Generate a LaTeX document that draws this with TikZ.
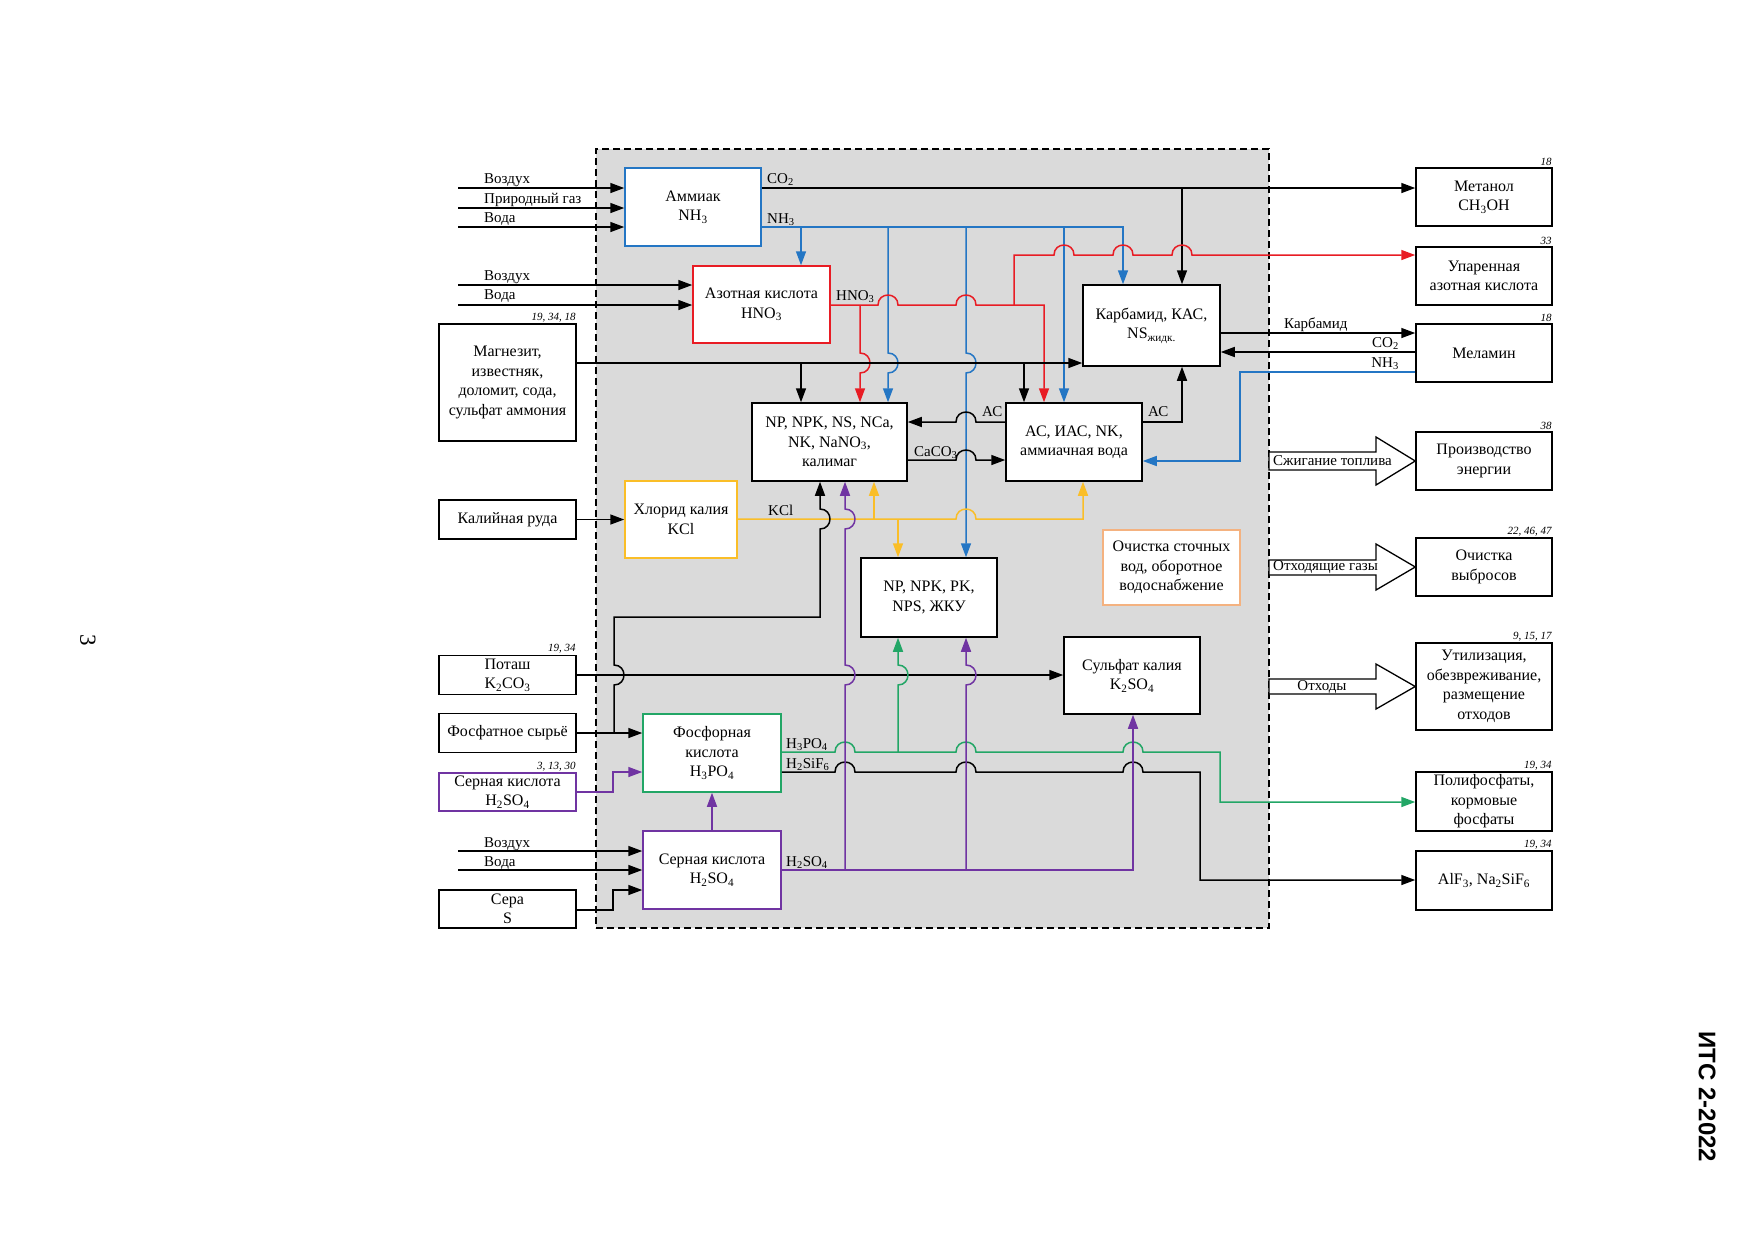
\documentclass[tikz,border=0pt]{standalone}
\usepackage{fontspec}
\setmainfont{Liberation Serif}
\newfontfamily\hdrfont{Liberation Sans}
\usetikzlibrary{arrows.meta}
\definecolor{cblue}{RGB}{36,118,196}
\definecolor{cred}{RGB}{232,28,36}
\definecolor{cyel}{RGB}{250,190,40}
\definecolor{cgreen}{RGB}{34,166,102}
\definecolor{cpurp}{RGB}{112,52,162}
\definecolor{corange}{RGB}{244,178,128}
\definecolor{cgray}{RGB}{218,218,218}
\newcommand\hopR[2]{-- (#1-10,#2) .. controls (#1-10,#2-13.3) and (#1+10,#2-13.3) .. (#1+10,#2)}
\newcommand\hopL[2]{-- (#1+10,#2) .. controls (#1+10,#2-13.3) and (#1-10,#2-13.3) .. (#1-10,#2)}
\newcommand\hopD[2]{-- (#1,#2-10) .. controls (#1+13.3,#2-10) and (#1+13.3,#2+10) .. (#1,#2+10)}
\newcommand\hopU[2]{-- (#1,#2+10) .. controls (#1+13.3,#2+10) and (#1+13.3,#2-10) .. (#1,#2-10)}
\newcommand\bxfont{\fontsize{16}{19.5}\selectfont}
\newcommand\lblfont{\fontsize{15}{17}\selectfont}
\newcommand\numfont{\fontsize{11}{13}\selectfont\itshape}
\newcommand\sbs[1]{\textsubscript{#1}}
\tikzset{
  ln/.style={line width=1.5pt},
  ar/.style={line width=1.5pt, -{Triangle[length=14pt,width=10pt]}},
  bx/.style={draw, fill=white, line width=1.5pt, align=center, inner sep=1pt, font=\bxfont},
  lbl/.style={inner sep=1pt, font=\lblfont},
  num/.style={inner sep=1pt, font=\numfont, anchor=south east},
  fat/.style={draw, fill=white, line width=1.3pt, line join=miter},
}
\begin{document}
\begin{tikzpicture}[x=1pt,y=-1pt]
\useasboundingbox (0,0) rectangle (1754,1240);
\fill[white] (0,0) rectangle (1754,1240);

\node[draw, fill=cgray, dash pattern=on 7pt off 4pt, line width=1.2pt, minimum width=673pt, minimum height=779pt, inner sep=0pt] (plant) at (932.5,538.5) {};

% central boxes
\node[bx, draw=cblue, minimum width=136pt, minimum height=78pt] (amm) at (693,207) {Аммиак\\NH\sbs{3}};
\node[bx, draw=cred, minimum width=137pt, minimum height=77pt] (azot) at (761.5,304.5) {Азотная кислота\\HNO\sbs{3}};
\node[bx, minimum width=137pt, minimum height=81pt] (carb) at (1151.5,325.5) {Карбамид, КАС,\\NS\sbs{жидк.}};
\node[bx, minimum width=155pt, minimum height=78pt] (np1) at (829.5,442) {NP, NPK, NS, NCa,\\NK, NaNO\sbs{3},\\калимаг};
\node[bx, minimum width=136pt, minimum height=78pt] (ac) at (1074,442) {АС, ИАС, NK,\\аммиачная вода};
\node[bx, draw=cyel, minimum width=112pt, minimum height=77pt] (kcl) at (681,519.5) {Хлорид калия\\KCl};
\node[bx, minimum width=136pt, minimum height=79pt] (np2) at (929,597.5) {NP, NPK, PK,\\NPS, ЖКУ};
\node[bx, draw=corange, minimum width=137pt, minimum height=75pt] (ochst) at (1171.5,567.5) {Очистка сточных\\вод, оборотное\\водоснабжение};
\node[bx, minimum width=136pt, minimum height=77pt] (k2so4) at (1132,675.5) {Сульфат калия\\K\sbs{2}SO\sbs{4}};
\node[bx, draw=cgreen, minimum width=138pt, minimum height=78pt] (fosf) at (712,753) {Фосфорная\\кислота\\H\sbs{3}PO\sbs{4}};
\node[bx, draw=cpurp, minimum width=138pt, minimum height=78pt] (sern) at (712,870) {Серная кислота\\H\sbs{2}SO\sbs{4}};

% left boxes
\node[bx, minimum width=137pt, minimum height=117pt] (magn) at (507.5,382.5) {Магнезит,\\известняк,\\доломит, сода,\\сульфат аммония};
\node[bx, minimum width=137pt, minimum height=39pt] (kal) at (507.5,519.5) {Калийная руда};
\node[bx, minimum width=137pt, minimum height=39pt] (potash) at (507.5,675) {Поташ\\K\sbs{2}CO\sbs{3}};
\node[bx, minimum width=137pt, minimum height=39pt] (fosfs) at (507.5,733) {Фосфатное сырьё};
\node[bx, draw=cpurp, minimum width=137pt, minimum height=38pt] (sernin) at (507.5,792) {Серная кислота\\H\sbs{2}SO\sbs{4}};
\node[bx, minimum width=137pt, minimum height=38pt] (sera) at (507.5,909) {Сера\\S};

% right boxes
\node[bx, minimum width=136pt, minimum height=58pt] (meth) at (1484,197) {Метанол\\CH\sbs{3}OH};
\node[bx, minimum width=136pt, minimum height=58pt] (upar) at (1484,276) {Упаренная\\азотная кислота};
\node[bx, minimum width=136pt, minimum height=58pt] (mel) at (1484,353) {Меламин};
\node[bx, minimum width=136pt, minimum height=58pt] (energy) at (1484,461) {Производство\\энергии};
\node[bx, minimum width=136pt, minimum height=58pt] (vybr) at (1484,567) {Очистка\\выбросов};
\node[bx, minimum width=136pt, minimum height=87pt] (util) at (1484,686.5) {Утилизация,\\обезвреживание,\\размещение\\отходов};
\node[bx, minimum width=136pt, minimum height=59pt] (poly) at (1484,801.5) {Полифосфаты,\\кормовые\\фосфаты};
\node[bx, minimum width=136pt, minimum height=59pt] (alf) at (1484,880.5) {AlF\sbs{3}, Na\sbs{2}SiF\sbs{6}};

% reference numbers
\node[num] (n1) at (magn.north east) {19, 34, 18};
\node[num] (n2) at (potash.north east) {19, 34};
\node[num] (n3) at (sernin.north east) {3, 13, 30};
\node[num] (n4) at (meth.north east) {18};
\node[num] (n5) at (upar.north east) {33};
\node[num] (n6) at (mel.north east) {18};
\node[num] (n7) at (energy.north east) {38};
\node[num] (n8) at (vybr.north east) {22, 46, 47};
\node[num] (n9) at (util.north east) {9, 15, 17};
\node[num] (n10) at (poly.north east) {19, 34};
\node[num] (n11) at (alf.north east) {19, 34};

% input coordinates
\coordinate (iA1) at (458,188);
\coordinate (iA2) at (458,208);
\coordinate (iA3) at (458,227);
\coordinate (iB1) at (458,285);
\coordinate (iB2) at (458,305);
\coordinate (iC1) at (458,851);
\coordinate (iC2) at (458,870);

\draw[ar] (iA1) -- (iA1 -| amm.west);
\draw[ar] (iA2) -- (iA2 -| amm.west);
\draw[ar] (iA3) -- (iA3 -| amm.west);
\draw[ar] (iB1) -- (iB1 -| azot.west);
\draw[ar] (iB2) -- (iB2 -| azot.west);
\draw[ar] (iC1) -- (iC1 -| sern.west);
\draw[ar] (iC2) -- (iC2 -| sern.west);
\node[lbl, anchor=base west] (lA1) at (483,183) {Воздух};
\node[lbl, anchor=base west] (lA2) at (483,203) {Природный газ};
\node[lbl, anchor=base west] (lA3) at (483,222) {Вода};
\node[lbl, anchor=base west] (lB1) at (483,280) {Воздух};
\node[lbl, anchor=base west] (lB2) at (483,299) {Вода};
\node[lbl, anchor=base west] (lC1) at (483,847) {Воздух};
\node[lbl, anchor=base west] (lC2) at (483,866) {Вода};

% CO2 from ammonia
\draw[ar] (amm.east |- iA1) -- (meth.west |- iA1);
\draw[ar] (1182,188) -- (1182,0 |- carb.north);
\node[lbl, anchor=base west] (lco2) at (766,183) {CO\sbs{2}};

% NH3 blue
\draw[ar,cblue] (amm.east |- iA3) -- (1123,227) -- (1123,0 |- carb.north);
\draw[ar,cblue] (801,227) -- (801,0 |- azot.north);
\draw[ar,cblue] (888,227) \hopD{888}{363} -- (888,0 |- np1.north);
\draw[ar,cblue] (966,227) \hopD{966}{363} -- (966,0 |- np2.north);
\draw[ar,cblue] (1064,227) -- (1064,0 |- ac.north);
\node[lbl, anchor=base west] (lnh3) at (766,223) {NH\sbs{3}};

% HNO3 red
\draw[ar,cred] (azot.east |- iB2) \hopR{888}{305} \hopR{966}{305} -- (1044,305) -- (1044,0 |- ac.north);
\draw[ar,cred] (860,305) \hopD{860}{363} -- (860,0 |- np1.north);
\draw[ar,cred] (1014,305) -- (1014,255) \hopR{1064}{255} \hopR{1123}{255} \hopR{1182}{255} -- (upar.west |- 0,255);
\node[lbl, anchor=base west] (lhno3) at (835,300) {HNO\sbs{3}};

% magnesite line
\draw[ar] (magn.east |- 0,363) -- (carb.west |- 0,363);
\draw[ar] (801,363) -- (801,0 |- np1.north);
\draw[ar] (1024,363) -- (1024,0 |- ac.north);

% carbamide - melamine
\draw[ar] (carb.east |- 0,333) -- (mel.west |- 0,333);
\draw[ar] (mel.west |- 0,352) -- (carb.east |- 0,352);
\draw[ar,cblue] (mel.west |- 0,372) -- (1240,372) -- (1240,461) -- (ac.east |- 0,461);
\node[lbl, anchor=base west] (lcarb) at (1283,328) {Карбамид};
\node[lbl, anchor=base east] (lco2m) at (1400,347) {CO\sbs{2}};
\node[lbl, anchor=base east] (lnh3m) at (1400,367) {NH\sbs{3}};

% AC and CaCO3
\draw[ar] (ac.west |- 0,422) \hopL{966}{422} -- (np1.east |- 0,422);
\draw[ar] (ac.east |- 0,422) -- (1182,422) -- (1182,0 |- carb.south);
\draw[ar] (np1.east |- 0,460) \hopR{966}{460} -- (ac.west |- 0,460);
\node[lbl, anchor=base west] (lac1) at (981,416) {АС};
\node[lbl, anchor=base west] (lac2) at (1147,416) {АС};
\node[lbl, anchor=base west] (lcaco3) at (913,456) {CaCO\sbs{3}};

% KCl yellow
\draw[ar,cyel] (kcl.east |- 0,519) \hopR{966}{519} -- (1083,519) -- (1083,0 |- ac.south);
\draw[ar,cyel] (874,519) -- (874,0 |- np1.south);
\draw[ar,cyel] (898,519) -- (898,0 |- np2.north);
\node[lbl, anchor=base west] (lkcl) at (767,515) {KCl};

% phosphate raw material and black riser
\draw[ar] (fosfs.east) -- (fosfs.east -| fosf.west);
\draw[ar] (614,733) \hopU{614}{675} -- (614,617) -- (820,617) \hopU{820}{519} -- (820,0 |- np1.south);

% potash, potassium ore
\draw[ar] (potash.east) -- (potash.east -| k2so4.west);
\draw[ar] (kal.east) -- (kal.east -| kcl.west);

% sulphuric acid inputs, sulphur
\draw[ar,cpurp] (sernin.east |- 0,792) -- (613,792) -- (613,772) -- (fosf.west |- 0,772);
\draw[ar] (sera.east |- 0,910) -- (613,910) -- (613,890) -- (sern.west |- 0,890);
\draw[ar,cpurp] (sern.north) -- (fosf.south);

% H3PO4 green
\draw[ar,cgreen] (fosf.east |- 0,752) \hopR{845}{752} \hopR{966}{752} \hopR{1133}{752} -- (1220,752) -- (1220,802) -- (poly.west |- 0,802);
\draw[ar,cgreen] (898,752) \hopU{898}{675} -- (898,0 |- np2.south);
\node[lbl, anchor=base west] (lh3po4) at (785,748) {H\sbs{3}PO\sbs{4}};

% H2SiF6 black
\draw[ar] (fosf.east |- 0,772) \hopR{845}{772} \hopR{966}{772} \hopR{1133}{772} -- (1200,772) -- (1200,880) -- (alf.west |- 0,880);
\node[lbl, anchor=base west] (lh2sif6) at (785,768) {H\sbs{2}SiF\sbs{6}};

% H2SO4 purple
\draw[ar,cpurp] (sern.east |- 0,870) -- (1133,870) -- (1133,0 |- k2so4.south);
\draw[ar,cpurp] (845,870) \hopU{845}{675} \hopU{845}{519} -- (845,0 |- np1.south);
\draw[ar,cpurp] (966,870) \hopU{966}{675} -- (966,0 |- np2.south);
\node[lbl, anchor=base west] (lh2so4) at (785,866) {H\sbs{2}SO\sbs{4}};

% big outlined arrows
\draw[fat] (1269,452) -- (1376,452) -- (1376,437) -- (energy.west) -- (1376,485) -- (1376,470) -- (1269,470) -- cycle;
\node[lbl, anchor=west] (lfuel) at (1272,461) {Сжигание топлива};
\draw[fat] (1269,560) -- (1376,560) -- (1376,544) -- (vybr.west) -- (1376,590) -- (1376,575) -- (1269,575) -- cycle;
\node[lbl, anchor=west] (lgas) at (1272,567.5) {Отходящие газы};
\draw[fat] (1269,679) -- (1376,679) -- (1376,664) -- (util.west) -- (1376,709) -- (1376,694) -- (1269,694) -- cycle;
\node[lbl] (lwaste) at (1322,687) {Отходы};

% page annotations
\node[rotate=-90, font=\fontsize{23}{26}\selectfont] (pg) at (88,640) {3};
\node[rotate=-90, font=\hdrfont\bfseries\fontsize{24}{28}\selectfont] (hdr) at (1707,1097) {ИТС 2-2022};
\end{tikzpicture}
\end{document}
